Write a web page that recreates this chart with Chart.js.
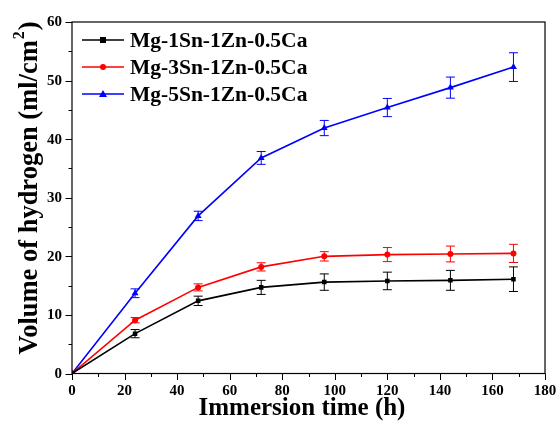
<!DOCTYPE html>
<html>
<head>
<meta charset="utf-8">
<script src="https://cdn.jsdelivr.net/npm/chart.js@4/dist/chart.umd.min.js"></script>
<style>
  html, body { margin: 0; padding: 0; background: #fff; }
  canvas { display: block; }
</style>
</head>
<body>
<canvas id="chart" width="557" height="424"></canvas>
<script>
// Immersion time (h)
const hours = [0, 24, 48, 72, 96, 120, 144, 168];

// Hydrogen volume (ml/cm²) and standard deviation for each alloy
const sn1 = [0, 6.8, 12.4, 14.7, 15.6, 15.8, 15.9, 16.1];
const sn1Err = [0, 0.7, 0.8, 1.2, 1.4, 1.5, 1.7, 2.1];
const sn3 = [0, 9.1, 14.7, 18.2, 20.0, 20.3, 20.4, 20.5];
const sn3Err = [0, 0.45, 0.6, 0.7, 0.8, 1.2, 1.35, 1.55];
const sn5 = [0, 13.7, 26.9, 36.8, 41.9, 45.4, 48.8, 52.3];
const sn5Err = [0, 0.75, 0.8, 1.1, 1.3, 1.55, 1.8, 2.45];

const seriesLabels = ['Mg-1Sn-1Zn-0.5Ca', 'Mg-3Sn-1Zn-0.5Ca', 'Mg-5Sn-1Zn-0.5Ca'];

const xTicks = [0, 20, 40, 60, 80, 100, 120, 140, 160, 180];
const yTicks = [0, 10, 20, 30, 40, 50, 60];

const SERIF = '"Liberation Serif", "Times New Roman", serif';

function toPoints(ys) {
  return hours.map((h, i) => ({ x: h, y: ys[i] }));
}

const series = [
  { label: seriesLabels[0], values: sn1, errors: sn1Err, color: '#000000', style: 'rect', radius: 3.2 },
  { label: seriesLabels[1], values: sn3, errors: sn3Err, color: '#ff0000', style: 'circle', radius: 3 },
  { label: seriesLabels[2], values: sn5, errors: sn5Err, color: '#0000ff', style: 'triangle', radius: 4 }
];

// Vertical error bars with caps, placed through the chart scales
const errorBarPlugin = {
  id: 'errorBars',
  beforeDatasetsDraw(chart) {
    const { ctx, scales: { x, y } } = chart;
    ctx.save();
    chart.data.datasets.forEach(ds => {
      ctx.strokeStyle = ds.borderColor;
      ctx.lineWidth = 1;
      ds.errors.forEach((e, i) => {
        if (!e) return;
        const px = x.getPixelForValue(ds.data[i].x);
        const top = y.getPixelForValue(ds.data[i].y + e);
        const bot = y.getPixelForValue(ds.data[i].y - e);
        ctx.beginPath();
        ctx.moveTo(px, top); ctx.lineTo(px, bot);
        ctx.moveTo(px - 4.5, top); ctx.lineTo(px + 4.5, top);
        ctx.moveTo(px - 4.5, bot); ctx.lineTo(px + 4.5, bot);
        ctx.stroke();
      });
    });
    ctx.restore();
  }
};

// Frame, tick marks and labels, axis titles and the legend
const framePlugin = {
  id: 'frame',
  afterDraw(chart) {
    const { ctx, chartArea: a, scales: { x, y } } = chart;
    ctx.save();
    ctx.strokeStyle = '#000';
    ctx.lineWidth = 1.2;
    ctx.strokeRect(a.left, a.top, a.right - a.left, a.bottom - a.top);

    ctx.lineWidth = 1;
    ctx.beginPath();
    for (let v = 0; v <= 180; v += 10) {
      const px = Math.round(x.getPixelForValue(v)) + 0.5;
      const len = v % 20 === 0 ? 6.5 : 3.5;
      ctx.moveTo(px, a.bottom); ctx.lineTo(px, a.bottom + len);
    }
    for (let v = 0; v <= 60; v += 5) {
      const py = Math.round(y.getPixelForValue(v)) + 0.5;
      const len = v % 10 === 0 ? 6.5 : 3.5;
      ctx.moveTo(a.left, py); ctx.lineTo(a.left - len, py);
    }
    ctx.stroke();

    // tick labels
    ctx.fillStyle = '#000';
    ctx.font = 'bold 15px ' + SERIF;
    ctx.textBaseline = 'middle';
    ctx.textAlign = 'center';
    xTicks.forEach(v => ctx.fillText(String(v), x.getPixelForValue(v), a.bottom + 18));
    ctx.textAlign = 'right';
    yTicks.forEach(v => ctx.fillText(String(v), a.left - 10, y.getPixelForValue(v) + 0.5));

    // axis titles
    ctx.font = 'bold 25px ' + SERIF;
    ctx.textAlign = 'center';
    ctx.fillText('Immersion time (h)', 302, 409);

    ctx.save();
    ctx.translate(37, 188);
    ctx.rotate(-Math.PI / 2);
    ctx.textBaseline = 'alphabetic';
    const yMain = 'Volume of hydrogen (ml/cm';
    const yEnd = ')';
    ctx.font = 'bold 26.5px ' + SERIF;
    const wMain = ctx.measureText(yMain).width;
    const wEnd = ctx.measureText(yEnd).width;
    ctx.font = 'bold 16px ' + SERIF;
    const wSup = ctx.measureText('2').width + 2;
    const start = -(wMain + wSup + wEnd) / 2;
    ctx.textAlign = 'left';
    ctx.font = 'bold 26.5px ' + SERIF;
    ctx.fillText(yMain, start, 0);
    ctx.fillText(yEnd, start + wMain + wSup, 0);
    ctx.font = 'bold 16px ' + SERIF;
    ctx.fillText('2', start + wMain + 1, -13);
    ctx.restore();

    // legend
    ctx.font = 'bold 21.5px ' + SERIF;
    ctx.textAlign = 'left';
    ctx.textBaseline = 'middle';
    chart.data.datasets.forEach((ds, i) => {
      const ly = 40 + i * 27;
      ctx.strokeStyle = ds.borderColor;
      ctx.lineWidth = 1.5;
      ctx.beginPath();
      ctx.moveTo(82, ly); ctx.lineTo(124, ly);
      ctx.stroke();
      ctx.fillStyle = ds.borderColor;
      const cx = 103;
      if (ds.pointStyle === 'rect') {
        ctx.fillRect(cx - 3, ly - 3, 6, 6);
      } else if (ds.pointStyle === 'circle') {
        ctx.beginPath(); ctx.arc(cx, ly, 3, 0, Math.PI * 2); ctx.fill();
      } else {
        ctx.beginPath();
        ctx.moveTo(cx, ly - 4); ctx.lineTo(cx + 4, ly + 3); ctx.lineTo(cx - 4, ly + 3);
        ctx.closePath(); ctx.fill();
      }
      ctx.fillStyle = '#000';
      ctx.fillText(ds.label, 130, ly + 1);
    });
    ctx.restore();
  }
};

new Chart(document.getElementById('chart'), {
  type: 'line',
  data: {
    datasets: series.map(s => ({
      label: s.label,
      data: toPoints(s.values),
      errors: s.errors,
      borderColor: s.color,
      backgroundColor: s.color,
      borderWidth: 1.6,
      pointStyle: s.style,
      pointRadius: s.radius,
      pointBorderWidth: 0,
      tension: 0
    }))
  },
  options: {
    responsive: false,
    animation: false,
    layout: { padding: { top: 22, right: 12, left: 0, bottom: 0 } },
    plugins: {
      legend: { display: false },
      tooltip: { enabled: false }
    },
    scales: {
      x: {
        type: 'linear',
        min: 0, max: 180,
        afterBuildTicks: s => { s.ticks = xTicks.map(v => ({ value: v })); },
        afterFit: s => { s.height = 50.5; },
        grid: { display: false, drawTicks: false, tickLength: 0 },
        border: { display: false },
        ticks: { display: false }
      },
      y: {
        type: 'linear',
        min: 0, max: 60,
        afterBuildTicks: s => { s.ticks = yTicks.map(v => ({ value: v })); },
        afterFit: s => { s.width = 72; },
        grid: { display: false, drawTicks: false, tickLength: 0 },
        border: { display: false },
        ticks: { display: false }
      }
    }
  },
  plugins: [errorBarPlugin, framePlugin]
});
</script>
</body>
</html>
